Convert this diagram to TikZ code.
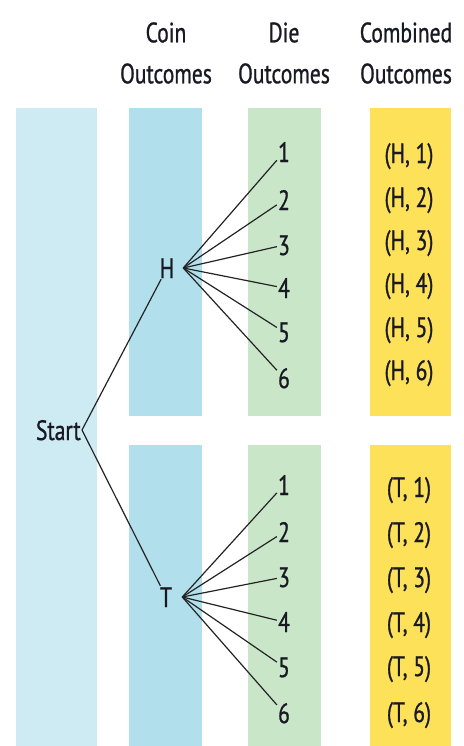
\documentclass[tikz,border=0pt]{standalone}
\usepackage{fontspec}
\setmainfont[FakeStretch=0.77,FakeBold=0.9]{PT Sans}
\definecolor{startcol}{RGB}{206,234,243}
\definecolor{coincol}{RGB}{178,223,236}
\definecolor{diecol}{RGB}{201,231,200}
\definecolor{combcol}{RGB}{253,225,88}
\definecolor{txtcol}{RGB}{25,25,35}
\definecolor{linecol}{RGB}{35,35,35}
\begin{document}
\begin{tikzpicture}[x=0.75pt,y=0.75pt,yscale=-1,xscale=1,
    lbl/.style={inner sep=0.75pt, font=\fontsize{21}{24}\selectfont, text height=15pt, text depth=0pt, text=txtcol},
    coinlbl/.style={lbl, minimum width=24pt},
    hdr/.style={inner sep=0.75pt, font=\fontsize{21}{30.75}\selectfont, align=center, text=txtcol},
    branch/.style={draw=linecol, line width=0.9pt}]
    %uncomment if require: \path (0,746); %set diagram left start at 0, and has height of 746
    \useasboundingbox (0,0) rectangle (464,746);
    
    %Shape: Rectangle
    \fill [startcol] (16,108) rectangle (97,746) ;
    %Shape: Rectangle
    \fill [coincol] (129,108) rectangle (202,416) ;
    %Shape: Rectangle
    \fill [coincol] (129,445) rectangle (202,746) ;
    %Shape: Rectangle
    \fill [diecol] (248,108) rectangle (321,416) ;
    %Shape: Rectangle
    \fill [diecol] (248,445) rectangle (321,746) ;
    %Shape: Rectangle
    \fill [combcol] (370,108) rectangle (451,416) ;
    %Shape: Rectangle
    \fill [combcol] (370,445) rectangle (451,746) ;
    
    % Text Node
    \draw (166,53) node [hdr] (coinhd) {Coin\\Outcomes};
    % Text Node
    \draw (284,53) node [hdr] (diehd) {Die\\Outcomes};
    % Text Node
    \draw (406,53) node [hdr] (combhd) {Combined\\Outcomes};
    
    % Text Node
    \draw (82,430) node [lbl, anchor=east] (start) {Start};
    % Text Node
    \draw (167,268) node [coinlbl] (H) {H};
    % Text Node
    \draw (166,597) node [coinlbl] (T) {T};
    
    % Text Node
    \draw (284,152) node [lbl] (h1) {1};
    % Text Node
    \draw (284,200) node [lbl] (h2) {2};
    % Text Node
    \draw (284,245) node [lbl] (h3) {3};
    % Text Node
    \draw (284,288) node [lbl] (h4) {4};
    % Text Node
    \draw (284,332) node [lbl] (h5) {5};
    % Text Node
    \draw (284,378) node [lbl] (h6) {6};
    
    % Text Node
    \draw (284,485) node [lbl] (t1) {1};
    % Text Node
    \draw (284,532) node [lbl] (t2) {2};
    % Text Node
    \draw (284,577) node [lbl] (t3) {3};
    % Text Node
    \draw (284,622) node [lbl] (t4) {4};
    % Text Node
    \draw (284,667) node [lbl] (t5) {5};
    % Text Node
    \draw (284,713) node [lbl] (t6) {6};
    
    % Text Node
    \draw (409,153) node [lbl] (hh1) {(H, 1)};
    % Text Node
    \draw (409,197) node [lbl] (hh2) {(H, 2)};
    % Text Node
    \draw (409,240) node [lbl] (hh3) {(H, 3)};
    % Text Node
    \draw (409,283) node [lbl] (hh4) {(H, 4)};
    % Text Node
    \draw (409,327) node [lbl] (hh5) {(H, 5)};
    % Text Node
    \draw (409,370) node [lbl] (hh6) {(H, 6)};
    
    % Text Node
    \draw (409,487) node [lbl] (tt1) {(T, 1)};
    % Text Node
    \draw (409,532) node [lbl] (tt2) {(T, 2)};
    % Text Node
    \draw (409,577) node [lbl] (tt3) {(T, 3)};
    % Text Node
    \draw (409,622) node [lbl] (tt4) {(T, 4)};
    % Text Node
    \draw (409,666) node [lbl] (tt5) {(T, 5)};
    % Text Node
    \draw (409,712) node [lbl] (tt6) {(T, 6)};
    
    %Straight Lines
    \draw [branch] (start.east) -- (H) ;
    %Straight Lines
    \draw [branch] (start.east) -- (T) ;
    
    %Straight Lines
    \draw [branch] (H.east) -- (h1) ;
    %Straight Lines
    \draw [branch] (H.east) -- (h2) ;
    %Straight Lines
    \draw [branch] (H.east) -- (h3) ;
    %Straight Lines
    \draw [branch] (H.east) -- (h4) ;
    %Straight Lines
    \draw [branch] (H.east) -- (h5) ;
    %Straight Lines
    \draw [branch] (H.east) -- (h6) ;
    
    %Straight Lines
    \draw [branch] (T.east) -- (t1) ;
    %Straight Lines
    \draw [branch] (T.east) -- (t2) ;
    %Straight Lines
    \draw [branch] (T.east) -- (t3) ;
    %Straight Lines
    \draw [branch] (T.east) -- (t4) ;
    %Straight Lines
    \draw [branch] (T.east) -- (t5) ;
    %Straight Lines
    \draw [branch] (T.east) -- (t6) ;
    
\end{tikzpicture}
\end{document}
